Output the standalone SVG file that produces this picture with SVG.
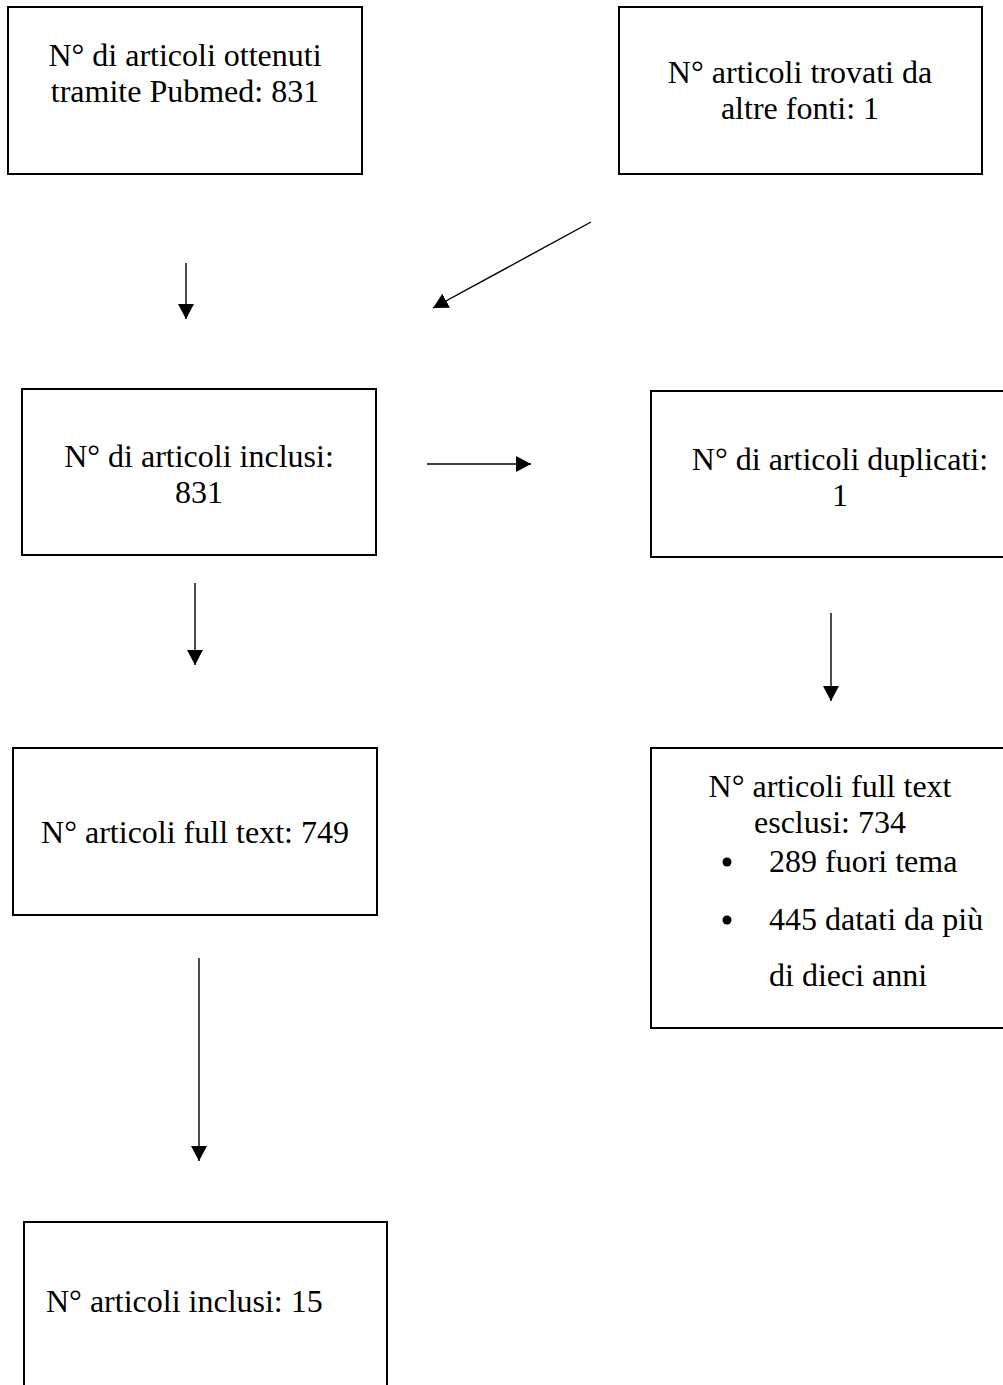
<svg xmlns="http://www.w3.org/2000/svg" width="1003" height="1385" viewBox="0 0 1003 1385">
<defs>
<style>
.box{fill:#fff;stroke:#000;stroke-width:2}
.t{font-family:"Liberation Serif","Times New Roman",serif;font-size:32px;fill:#000}
.c{text-anchor:middle}
.conn line{stroke:#000;stroke-width:1.4}
</style>
<marker id="ah" viewBox="0 0 15 16" refX="15" refY="8" markerUnits="userSpaceOnUse" markerWidth="15" markerHeight="16" orient="auto">
<path d="M0,0 L15,8 L0,16 Z" fill="#000"/>
</marker>
</defs>
<rect width="1003" height="1385" fill="#fff"/>
<g id="n1">
<rect class="box" x="8" y="7" width="354" height="167"/>
<text class="t c" x="185" y="66">N° di articoli ottenuti</text>
<text class="t c" x="185" y="102">tramite Pubmed: 831</text>
</g>
<g id="n2">
<rect class="box" x="619" y="7" width="363" height="167"/>
<text class="t c" x="800" y="83">N° articoli trovati da</text>
<text class="t c" x="800" y="119">altre fonti: 1</text>
</g>
<g id="n3">
<rect class="box" x="22" y="389" width="354" height="166"/>
<text class="t c" x="199" y="467">N° di articoli inclusi:</text>
<text class="t c" x="199" y="503">831</text>
</g>
<g id="n4">
<rect class="box" x="651" y="391" width="370" height="166"/>
<text class="t c" x="840" y="470">N° di articoli duplicati:</text>
<text class="t c" x="840" y="506">1</text>
</g>
<g id="n5">
<rect class="box" x="13" y="748" width="364" height="167"/>
<text class="t c" x="195" y="843">N° articoli full text: 749</text>
</g>
<g id="n6">
<rect class="box" x="651" y="748" width="370" height="280"/>
<text class="t c" x="830" y="797">N° articoli full text</text>
<text class="t c" x="830" y="833">esclusi: 734</text>
<circle cx="727" cy="862" r="4.5" fill="#000"/>
<text class="t" x="769" y="872">289 fuori tema</text>
<circle cx="727" cy="920" r="4.5" fill="#000"/>
<text class="t" x="769" y="930">445 datati da più</text>
<text class="t" x="769" y="986">di dieci anni</text>
</g>
<g id="n7">
<rect class="box" x="24" y="1222" width="363" height="200"/>
<text class="t" x="46" y="1312">N° articoli inclusi: 15</text>
</g>
<g class="conn" id="connectors">
<line x1="186" y1="263" x2="186" y2="319" marker-end="url(#ah)"/>
<line x1="591" y1="222" x2="433" y2="308" marker-end="url(#ah)"/>
<line x1="427" y1="464" x2="531" y2="464" marker-end="url(#ah)"/>
<line x1="195" y1="583" x2="195" y2="665" marker-end="url(#ah)"/>
<line x1="831" y1="613" x2="831" y2="701" marker-end="url(#ah)"/>
<line x1="199" y1="958" x2="199" y2="1161" marker-end="url(#ah)"/>
</g>
</svg>
